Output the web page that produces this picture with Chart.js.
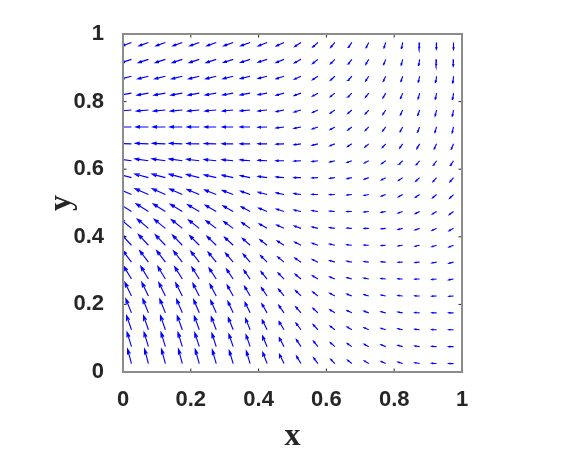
<!DOCTYPE html>
<html>
<head>
<meta charset="utf-8">
<script src="https://cdn.jsdelivr.net/npm/chart.js@4"></script>
<style>
  html, body { margin: 0; padding: 0; background: #fff; }
  #wrap { width: 566px; height: 454px; }
</style>
</head>
<body>
<div id="wrap"><canvas id="quiverChart"></canvas></div>
<script>
// grid of arrow tails
var xGrid = [0.025, 0.075, 0.125, 0.175, 0.225, 0.275, 0.325, 0.375, 0.425, 0.475,
             0.525, 0.575, 0.625, 0.675, 0.725, 0.775, 0.825, 0.875, 0.925, 0.975];
// rows from top to bottom
var yGrid = [0.975, 0.925, 0.875, 0.825, 0.775, 0.725, 0.675, 0.625, 0.575, 0.525,
             0.475, 0.425, 0.375, 0.325, 0.275, 0.225, 0.175, 0.125, 0.075, 0.025];

var tickValues = [0, 0.2, 0.4, 0.6, 0.8, 1];
var tickLabels = ['0', '0.2', '0.4', '0.6', '0.8', '1'];

// arrow direction: degrees away from pointing left (+ = tilted up, - = tilted down)
var tilt = [
  [-20,-20,-20,-20,-20,-20,-20,-20,-22,-25,-33,-42,-50,-55,-63,-72,-80,-85,-88,-90],
  [-18,-18,-18,-18,-18,-18,-18,-18,-18,-22,-29,-38,-46,-52,-59,-68,-76,-82,-85,-87],
  [-14,-14,-14,-14,-14,-14,-14,-14,-14,-18,-25,-33,-42,-48,-56,-64,-72,-78,-82,-85],
  [-10,-10,-10,-10,-10,-10,-10,-10,-10,-15,-20,-29,-38,-45,-52,-60,-68,-75,-79,-82],
  [-5,-5,-5,-5,-5,-5,-5,-5,-6,-11,-16,-24,-34,-41,-49,-57,-65,-71,-76,-80],
  [0,0,0,0,0,0,0,0,-2,-8,-12,-20,-30,-38,-45,-53,-61,-68,-73,-77],
  [2,2,2,2,1,1,0,0,0,-2,-8,-15,-22,-32,-40,-47,-55,-60,-65,-67],
  [8,8,8,8,7,6,6,5,2,0,-3,-8,-15,-20,-27,-35,-43,-50,-55,-57],
  [15,15,15,15,14,13,13,12,8,5,0,-3,-8,-12,-20,-28,-35,-43,-48,-50],
  [24,24,24,24,23,22,21,20,15,12,8,3,-2,-5,-11,-20,-28,-34,-40,-44],
  [32,32,32,31,30,30,29,28,22,18,12,8,3,0,-7,-12,-20,-27,-32,-37],
  [40,40,39,39,38,37,36,35,30,25,20,14,8,3,-1,-7,-14,-20,-25,-29],
  [47,47,46,46,45,44,43,42,38,33,27,20,13,6,2,-4,-9,-13,-18,-22],
  [53,53,53,52,52,51,50,49,45,40,34,26,17,11,7,3,-1,-5,-10,-15],
  [59,59,59,58,58,57,56,55,51,46,40,32,23,16,12,7,3,-2,-6,-10],
  [64,64,64,63,63,62,61,60,56,51,45,38,28,21,16,11,6,1,-3,-5],
  [68,68,68,67,67,66,65,64,60,55,49,43,33,26,20,14,9,4,1,0],
  [71,71,71,70,70,69,68,68,64,59,53,47,38,31,24,18,12,6,3,0],
  [73,73,73,73,72,72,71,71,67,62,57,51,42,35,28,22,15,8,4,0],
  [75,75,75,75,74,74,73,73,69,64,59,53,46,39,31,24,17,9,4,0]
];

// arrow magnitude
var speed = [
  [1.0,1.0,1.0,1.0,1.0,1.0,1.0,1.0,0.95,0.85,0.75,0.7,0.65,0.6,0.6,0.6,0.62,0.65,0.68,0.7],
  [1.05,1.05,1.05,1.05,1.05,1.05,1.02,1.0,0.94,0.85,0.75,0.68,0.62,0.58,0.58,0.58,0.6,0.62,0.65,0.68],
  [1.1,1.1,1.1,1.1,1.1,1.07,1.04,1.0,0.92,0.83,0.73,0.65,0.6,0.56,0.56,0.56,0.58,0.6,0.63,0.66],
  [1.15,1.15,1.15,1.15,1.13,1.1,1.05,1.0,0.91,0.81,0.71,0.62,0.57,0.54,0.54,0.55,0.57,0.59,0.62,0.64],
  [1.2,1.2,1.2,1.2,1.17,1.12,1.07,1.0,0.9,0.8,0.7,0.6,0.55,0.52,0.52,0.53,0.55,0.58,0.6,0.62],
  [1.25,1.25,1.25,1.24,1.2,1.15,1.08,1.0,0.9,0.8,0.7,0.6,0.54,0.5,0.5,0.52,0.54,0.57,0.59,0.6],
  [1.3,1.3,1.3,1.28,1.24,1.18,1.1,1.0,0.9,0.8,0.7,0.6,0.53,0.5,0.5,0.5,0.52,0.55,0.57,0.58],
  [1.35,1.35,1.35,1.32,1.27,1.2,1.12,1.0,0.9,0.8,0.7,0.6,0.52,0.5,0.5,0.5,0.5,0.53,0.55,0.56],
  [1.4,1.4,1.38,1.35,1.3,1.22,1.13,1.0,0.9,0.8,0.7,0.6,0.52,0.48,0.48,0.48,0.5,0.52,0.54,0.55],
  [1.45,1.45,1.42,1.38,1.32,1.24,1.14,1.0,0.9,0.8,0.7,0.6,0.52,0.48,0.47,0.47,0.48,0.5,0.52,0.53],
  [1.45,1.45,1.43,1.4,1.34,1.26,1.15,1.0,0.9,0.8,0.7,0.6,0.52,0.48,0.46,0.46,0.47,0.48,0.5,0.52],
  [1.45,1.45,1.43,1.4,1.35,1.27,1.16,1.02,0.9,0.8,0.7,0.6,0.53,0.48,0.46,0.45,0.46,0.47,0.49,0.5],
  [1.45,1.45,1.44,1.41,1.36,1.28,1.17,1.03,0.9,0.8,0.7,0.6,0.54,0.49,0.46,0.45,0.45,0.46,0.48,0.49],
  [1.45,1.45,1.44,1.42,1.37,1.29,1.18,1.05,0.92,0.82,0.72,0.62,0.55,0.5,0.47,0.45,0.45,0.46,0.47,0.48],
  [1.48,1.48,1.46,1.44,1.39,1.31,1.2,1.08,0.96,0.85,0.75,0.64,0.56,0.51,0.48,0.46,0.46,0.46,0.47,0.48],
  [1.5,1.5,1.48,1.46,1.41,1.34,1.23,1.12,1.0,0.88,0.77,0.66,0.57,0.52,0.49,0.47,0.46,0.46,0.47,0.47],
  [1.5,1.5,1.49,1.47,1.43,1.36,1.26,1.16,1.05,0.92,0.8,0.68,0.58,0.53,0.5,0.48,0.47,0.47,0.47,0.47],
  [1.5,1.5,1.5,1.48,1.45,1.38,1.29,1.2,1.1,0.96,0.83,0.7,0.59,0.54,0.51,0.49,0.48,0.47,0.47,0.47],
  [1.5,1.5,1.5,1.49,1.46,1.4,1.32,1.25,1.15,1.0,0.85,0.7,0.6,0.55,0.52,0.5,0.49,0.48,0.48,0.48],
  [1.5,1.5,1.5,1.5,1.47,1.42,1.35,1.3,1.2,1.03,0.87,0.72,0.6,0.55,0.52,0.5,0.49,0.48,0.48,0.48]
];

var ARROW_SCALE = 0.0295;   // magnitude -> axis units
var HEAD = 0.33;            // arrowhead size, like matlab quiver

// shaft + head of every arrow, separated by gaps
var arrowPoints = [];
yGrid.forEach(function (y, r) {
    xGrid.forEach(function (x, c) {
        var a = tilt[r][c] * Math.PI / 180;
        var u = -Math.cos(a) * speed[r][c] * ARROW_SCALE;
        var v = Math.sin(a) * speed[r][c] * ARROW_SCALE;
        var hx = x + u, hy = y + v;
        arrowPoints.push({x: x, y: y}, {x: hx, y: hy}, {x: null, y: null});
        arrowPoints.push(
            {x: hx - HEAD * (u + HEAD * v), y: hy - HEAD * (v - HEAD * u)},
            {x: hx, y: hy},
            {x: hx - HEAD * (u - HEAD * v), y: hy - HEAD * (v + HEAD * u)},
            {x: null, y: null}
        );
    });
});

// box round the axes with inward ticks
var axisBox = {
    id: 'axisBox',
    afterDatasetsDraw: function (chart) {
        var ctx = chart.ctx, a = chart.chartArea;
        var sx = chart.scales.x, sy = chart.scales.y;
        var tl = 3.5;
        ctx.save();
        ctx.strokeStyle = '#262626';
        ctx.lineWidth = 1;
        ctx.beginPath();
        tickValues.forEach(function (v) {
            var px = sx.getPixelForValue(v), py = sy.getPixelForValue(v);
            ctx.moveTo(px, a.bottom); ctx.lineTo(px, a.bottom - tl);
            ctx.moveTo(px, a.top); ctx.lineTo(px, a.top + tl);
            ctx.moveTo(a.left, py); ctx.lineTo(a.left + tl, py);
            ctx.moveTo(a.right, py); ctx.lineTo(a.right - tl, py);
        });
        ctx.stroke();
        ctx.strokeStyle = '#8c8c8c';
        ctx.lineWidth = 2;
        ctx.strokeRect(a.left, a.top, a.right - a.left, a.bottom - a.top);
        ctx.restore();
    }
};

var tickFont = {family: "'Liberation Sans', Arial, sans-serif", size: 22, weight: 'bold'};
var titleFont = {family: "'Liberation Serif', 'Times New Roman', serif", size: 32, weight: 'bold', lineHeight: 1};

function fixedTicks(scale) {
    scale.ticks = tickValues.map(function (v) { return {value: v}; });
}

var ctx = document.getElementById('quiverChart').getContext('2d');
var quiverChart = new Chart(ctx, {
    type: 'scatter',
    data: {
        datasets: [{
            data: arrowPoints,
            showLine: true,
            spanGaps: false,
            borderColor: '#0000ff',
            borderWidth: 1.15,
            pointRadius: 0,
            pointHoverRadius: 0,
            fill: false
        }]
    },
    options: {
        responsive: true,
        maintainAspectRatio: false,
        animation: false,
        events: [],
        layout: {padding: {top: 34, right: 104, bottom: 0, left: 0}},
        plugins: {legend: {display: false}, tooltip: {enabled: false}},
        scales: {
            x: {
                type: 'linear', min: 0, max: 1,
                afterBuildTicks: fixedTicks,
                afterFit: function (s) { s.height = 82; },
                grid: {display: false},
                border: {display: false},
                ticks: {
                    padding: 7, maxRotation: 0, autoSkip: false,
                    color: '#262626', font: tickFont,
                    callback: function (v, i) { return tickLabels[i]; }
                },
                title: {display: true, text: 'x', color: '#262626', font: titleFont, padding: {top: 0, bottom: 1}}
            },
            y: {
                type: 'linear', min: 0, max: 1,
                afterBuildTicks: fixedTicks,
                afterFit: function (s) { s.width = 123; },
                grid: {display: false},
                border: {display: false},
                ticks: {
                    padding: 11, autoSkip: false,
                    color: '#262626', font: tickFont,
                    callback: function (v, i) { return tickLabels[i]; }
                },
                title: {display: true, text: 'y', color: '#262626', font: titleFont, padding: {top: 46, bottom: 0}}
            }
        }
    },
    plugins: [axisBox]
});
</script>
</body>
</html>
